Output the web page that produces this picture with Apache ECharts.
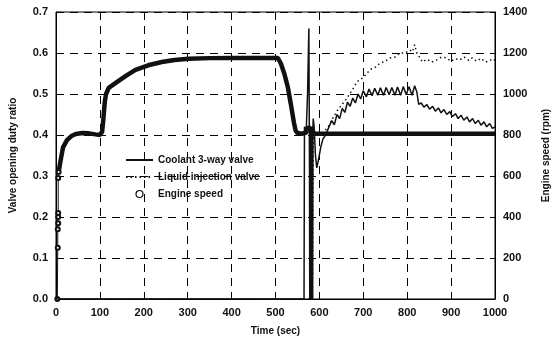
<!DOCTYPE html>
<html>
<head>
<meta charset="utf-8">
<script src="https://cdn.jsdelivr.net/npm/echarts@6/dist/echarts.min.js"></script>
<style>
  html, body { margin: 0; padding: 0; background: #fff; }
  #chart { width: 559px; height: 341px; }
</style>
</head>
<body>
<div id="chart"></div>
<script>
// valve duty ratio (left axis), [time sec, ratio]
var coolantValve = [
  [0,0],[565,0],[566,0.42],[570,0.41],[573,0.5],[576,0.66],[577.5,0.3],[578,0],[578.7,0.4],[579.3,0],
  [580,0.42],[580.6,0],[581.3,0.4],[582,0],[582.6,0.42],[583.3,0],[584,0.41],[584.6,0],[585.3,0.42],
  [586,0.44],[588,0.42],[591,0.35],[594,0.32],[598,0.34],
  [603,0.37],[608,0.39],[614,0.4],[618,0.41],[622,0.42],[628,0.435],[634,0.425],[640,0.45],
  [646,0.44],[652,0.465],[658,0.455],[664,0.48],[670,0.47],[676,0.49],[682,0.478],[688,0.5],
  [694,0.488],[700,0.508],[707,0.493],[713,0.512],[720,0.496],[726,0.514],[733,0.497],[739,0.515],
  [746,0.497],[752,0.516],[759,0.498],[765,0.516],[772,0.497],[778,0.517],[785,0.497],[791,0.518],
  [798,0.498],[804,0.518],[811,0.497],[817,0.52],[822,0.505],[826,0.475],[832,0.478],[838,0.468],
  [845,0.474],[851,0.463],[858,0.47],[864,0.458],[871,0.466],[877,0.454],[884,0.462],[890,0.45],
  [897,0.457],[903,0.445],[910,0.452],[916,0.44],[923,0.448],[929,0.436],[936,0.444],[942,0.432],
  [949,0.44],[955,0.428],[962,0.436],[968,0.424],[975,0.432],[981,0.42],[988,0.428],[994,0.416],[1000,0.42]
];
var liquidValve = [
  [0,0],[580,0],[582,0.4],[584,0],[586,0.4],[600,0.4],[612,0.41],[620,0.42],[630,0.44],[641,0.46],
  [652,0.475],[663,0.49],[675,0.51],[686,0.53],[700,0.54],[708,0.55],[716,0.56],[727,0.565],
  [738,0.575],[750,0.58],[761,0.588],[772,0.59],[783,0.6],[795,0.6],[806,0.607],[812,0.603],
  [817,0.62],[822,0.6],[828,0.59],[835,0.578],[845,0.585],[856,0.578],[867,0.583],[878,0.59],
  [889,0.588],[900,0.58],[910,0.586],[919,0.583],[930,0.59],[940,0.582],[948,0.588],[958,0.58],
  [968,0.587],[978,0.578],[986,0.58],[995,0.586],[1000,0.582]
];
// engine speed (right axis), [time sec, rpm]
var engineStartup = [
  [3,0],[4,250],[4,340],[5,370],[5,400],[5,420],[5,590],[6,620]
];
var engineSpeed = [
  [6,620],[10,670],[16,740],[25,775],
  [35,795],[45,805],[60,810],[75,808],[90,803],[100,800],[105,815],[108,880],[111,960],[114,1000],
  [120,1030],[136,1054],[160,1090],[181,1118],[210,1140],[241,1156],[270,1166],[302,1172],
  [350,1175],[400,1176],[450,1176],[505,1176],[512,1150],[520,1100],[528,1034],[535,950],
  [542,860],[546,820],[550,810],[560,806],[570,812],[575,840],[580,830],[585,815],[590,806],
  [600,806],[650,806],[700,806],[750,806],[800,806],[850,806],[900,806],[950,806],[1000,806]
];
var seriesNames = ['Coolant 3-way valve', 'Liquid injection valve', 'Engine speed'];

var myChart = echarts.init(document.getElementById('chart'));
var font = 'Arial, "Liberation Sans", sans-serif';
var gridDash = { color: '#000', width: 1, type: [8, 6] };
var txt = { fontFamily: font, fontSize: 10, fontWeight: 'bold', color: '#111' };
var lbl = { fontFamily: font, fontSize: 11, fontWeight: 'bold', color: '#111', margin: 8 };

var option = {
  animation: false,
  backgroundColor: '#fff',
  grid: { left: 53, right: 63, top: 12, bottom: 42, show: true, borderColor: '#000', borderWidth: 1 },
  legend: {
    orient: 'vertical',
    left: 120,
    top: 150,
    itemWidth: 27,
    itemHeight: 7,
    itemGap: 7,
    textStyle: txt,
    data: [
      { name: seriesNames[0], itemStyle: { opacity: 0 } },
      { name: seriesNames[1], itemStyle: { opacity: 0 } },
      { name: seriesNames[2], icon: 'circle', itemStyle: { color: '#fff', borderColor: '#111', borderWidth: 1.2 } }
    ]
  },
  xAxis: {
    type: 'value', min: 0, max: 1000, interval: 100,
    name: 'Time (sec)', nameLocation: 'middle', nameGap: 27, nameTextStyle: txt,
    axisLine: { lineStyle: { color: '#000' } },
    axisTick: { show: false },
    axisLabel: Object.assign({ formatter: function (v) { return String(v); } }, lbl),
    splitLine: { show: true, lineStyle: gridDash }
  },
  yAxis: [
    {
      type: 'value', min: 0, max: 0.7, interval: 0.1,
      name: 'Valve opening duty ratio', nameLocation: 'middle', nameGap: 38, nameRotate: 90, nameTextStyle: txt,
      axisLine: { show: true, lineStyle: { color: '#000' } },
      axisTick: { show: false },
      axisLabel: Object.assign({ formatter: function (v) { return v.toFixed(1); } }, lbl),
      splitLine: { show: true, lineStyle: gridDash }
    },
    {
      type: 'value', min: 0, max: 1400, interval: 200, position: 'right',
      name: 'Engine speed (rpm)', nameLocation: 'middle', nameGap: 46, nameRotate: 90, nameTextStyle: txt,
      axisLine: { show: true, lineStyle: { color: '#000' } },
      axisTick: { show: false },
      axisLabel: Object.assign({ formatter: function (v) { return String(v); } }, lbl),
      splitLine: { show: false }
    }
  ],
  series: [
    {
      name: seriesNames[2], type: 'line', yAxisIndex: 1, data: engineSpeed,
      symbol: 'none', itemStyle: { color: '#111' },
      lineStyle: { color: '#111', width: 4.5 }, z: 3
    },
    {
      // start-up readings: open circles on a thin trace
      name: seriesNames[2], type: 'line', yAxisIndex: 1, data: engineStartup,
      symbol: 'emptyCircle', symbolSize: 4, showAllSymbol: true,
      itemStyle: { color: '#111', borderWidth: 1 },
      lineStyle: { color: '#111', width: 1 }, z: 3
    },
    {
      name: seriesNames[0], type: 'line', yAxisIndex: 0, data: coolantValve,
      symbol: 'none', lineStyle: { color: '#111', width: 1.5 }, itemStyle: { color: '#111' }, z: 4
    },
    {
      name: seriesNames[1], type: 'line', yAxisIndex: 0, data: liquidValve,
      symbol: 'none', lineStyle: { color: '#111', width: 1.5, type: [1.5, 3] }, itemStyle: { color: '#111' }, z: 4
    }
  ]
};
myChart.setOption(option);
</script>
</body>
</html>
